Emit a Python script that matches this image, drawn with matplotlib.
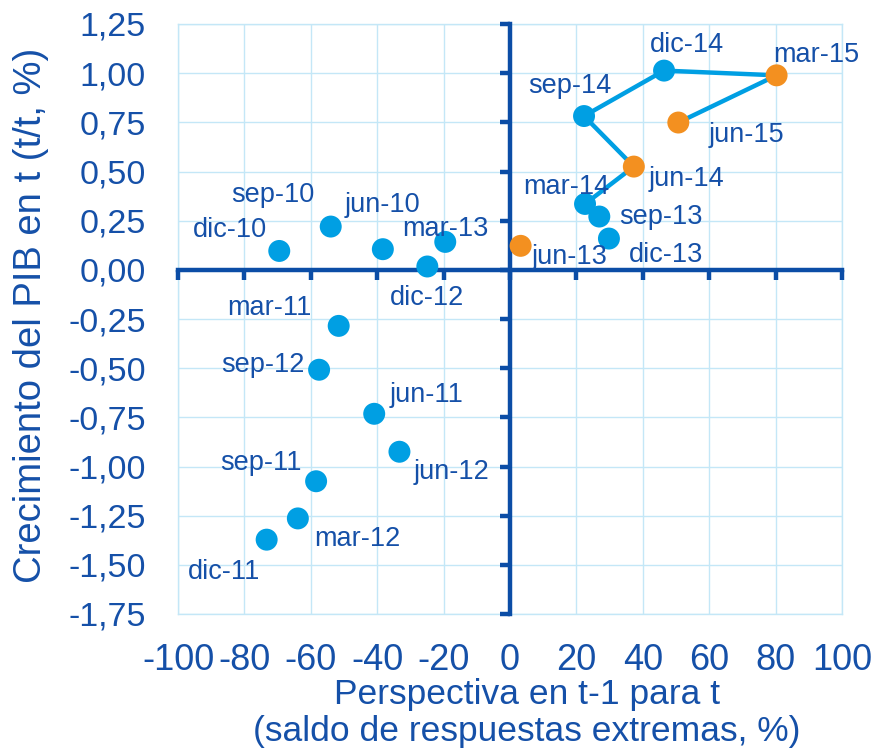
import matplotlib
matplotlib.use("Agg")
import matplotlib.pyplot as plt

# ---------------- data ----------------
quarters = ["jun-10", "sep-10", "dic-10", "mar-11", "jun-11", "sep-11", "dic-11",
            "mar-12", "jun-12", "sep-12", "dic-12", "mar-13", "jun-13", "sep-13",
            "dic-13", "mar-14", "jun-14", "sep-14", "dic-14", "mar-15", "jun-15"]
perspectiva = [-38.3, -54.0, -69.5, -51.6, -40.9, -58.4, -73.3,
               -63.9, -33.3, -57.5, -24.9, -19.5, 3.2, 26.9,
               29.8, 22.6, 37.3, 22.3, 46.4, 80.3, 50.7]
crecimiento = [0.105, 0.22, 0.096, -0.285, -0.732, -1.075, -1.372,
               -1.264, -0.925, -0.508, 0.017, 0.142, 0.122, 0.271,
               0.159, 0.335, 0.525, 0.782, 1.013, 0.989, 0.749]
highlighted = ["jun-13", "jun-14", "mar-15", "jun-15"]
path_quarters = ["mar-14", "jun-14", "sep-14", "dic-14", "mar-15", "jun-15"]

x_ticks = [-100, -80, -60, -40, -20, 0, 20, 40, 60, 80, 100]
x_ticklabels = ["-100", "-80", "-60", "-40", "-20", "0", "20", "40", "60", "80", "100"]
y_ticks = [1.25, 1.0, 0.75, 0.5, 0.25, 0.0, -0.25, -0.5, -0.75, -1.0, -1.25, -1.5, -1.75]
y_ticklabels = ["1,25", "1,00", "0,75", "0,50", "0,25", "0,00", "-0,25", "-0,50",
                "-0,75", "-1,00", "-1,25", "-1,50", "-1,75"]

x_label = "Perspectiva en t-1 para t\n(saldo de respuestas extremas, %)"
y_label = "Crecimiento del PIB en t (t/t, %)"

# ---------------- style ----------------
label_offsets = {  # pixels (dx, dy up)
    "dic-10": (-49, 21), "sep-10": (-58, 32), "jun-10": (0, 44),
    "mar-11": (-69, 18), "jun-11": (52, 19), "sep-11": (-55, 18),
    "dic-11": (-43, -32), "mar-12": (59, -21), "jun-12": (52, -20),
    "sep-12": (-56, 5), "dic-12": (0, -32), "mar-13": (0, 13),
    "jun-13": (49, -11), "sep-13": (62, 0), "dic-13": (57, -16),
    "mar-14": (-19, 17), "jun-14": (53, -12), "sep-14": (-14, 30),
    "dic-14": (23, 26), "mar-15": (40, 20), "jun-15": (68, -12),
}
BLUE = "#009FE3"
ORANGE = "#F39020"
DARK = "#0B4DA6"
TEXT = "#1550A8"
GRID = "#C4E7F7"

plt.rcParams["font.family"] = ["Liberation Sans", "DejaVu Sans"]

fig = plt.figure(figsize=(8.75, 7.5), dpi=100)
rect = [178 / 875, 1 - 614 / 750, (842 - 178) / 875, (614 - 24) / 750]

# background axes: grid, frame, tick labels
ax = fig.add_axes(rect)
ax.set_xlim(-100, 100)
ax.set_ylim(-1.75, 1.25)
ax.set_xticks(x_ticks)
ax.set_xticklabels(x_ticklabels)
ax.set_yticks(y_ticks)
ax.set_yticklabels(y_ticklabels)
ax.tick_params(axis="x", length=0, pad=21, labelsize=26, labelcolor=TEXT)
ax.tick_params(axis="y", length=0, pad=23, labelsize=24.5, labelcolor=TEXT)
ax.grid(True, color=GRID, linewidth=1.0)
ax.set_axisbelow(True)
for s in ax.spines.values():
    s.set_color(GRID)
    s.set_linewidth(1.0)

# foreground axes: zero axes with ticks, data
axz = fig.add_axes(rect, sharex=ax, sharey=ax)
axz.patch.set_visible(False)
axz.spines["top"].set_visible(False)
axz.spines["right"].set_visible(False)
axz.spines["left"].set_position(("data", 0))
axz.spines["bottom"].set_position(("data", 0))
for s in ("left", "bottom"):
    axz.spines[s].set_color(DARK)
    axz.spines[s].set_linewidth(3.2)
axz.tick_params(axis="both", direction="out", length=7.5, width=3.2, color=DARK,
                labelleft=False, labelbottom=False)

idx = {q: i for i, q in enumerate(quarters)}
px = [perspectiva[idx[q]] for q in path_quarters]
py = [crecimiento[idx[q]] for q in path_quarters]
axz.plot(px, py, color=BLUE, linewidth=3.2, zorder=4, solid_capstyle="round")

colors = [ORANGE if q in highlighted else BLUE for q in quarters]
axz.scatter(perspectiva, crecimiento, s=250, c=colors, edgecolors="none", zorder=5,
            clip_on=False)

for q, xv, yv in zip(quarters, perspectiva, crecimiento):
    dx, dy = label_offsets[q]
    axz.annotate(q, (xv, yv), xytext=(dx, dy), textcoords="offset pixels",
                 ha="center", va="center", fontsize=19.5, color=TEXT, zorder=6)

fig.text(527 / 875, 1 - 713 / 750, x_label, ha="center", va="center",
         fontsize=25.5, color=TEXT, linespacing=1.15)
fig.text(31 / 875, 1 - 315 / 750, y_label, ha="center", va="center",
         rotation=90, fontsize=27.5, color=TEXT)

fig.savefig("out.png", dpi=100)
